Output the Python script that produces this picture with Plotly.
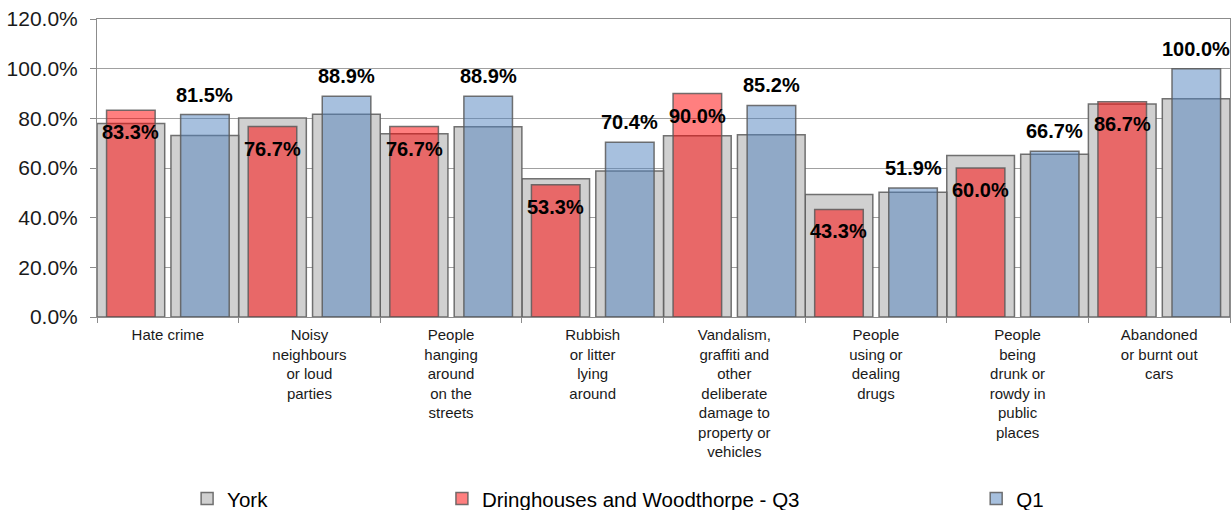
import plotly.graph_objects as go

categories = [
    "Hate crime",
    "Noisy<br>neighbours<br>or loud<br>parties",
    "People<br>hanging<br>around<br>on the<br>streets",
    "Rubbish<br>or litter<br>lying<br>around",
    "Vandalism,<br>graffiti and<br>other<br>deliberate<br>damage to<br>property or<br>vehicles",
    "People<br>using or<br>dealing<br>drugs",
    "People<br>being<br>drunk or<br>rowdy in<br>public<br>places",
    "Abandoned<br>or burnt out<br>cars",
]

# York comparison values (one behind the Q3 bar, one behind the Q1 bar)
york_q3 = [77.9, 80.1, 73.8, 55.7, 73.0, 49.3, 65.0, 85.8]
york_q1 = [73.1, 81.6, 76.6, 58.8, 73.4, 50.2, 65.5, 87.9]
dring_q3 = [83.3, 76.7, 76.7, 53.3, 90.0, 43.3, 60.0, 86.7]
q1 = [81.5, 88.9, 88.9, 70.4, 85.2, 51.9, 66.7, 100.0]

FONT = "Liberation Sans, Arial, sans-serif"
GREY = "#d0d0d0"
RED = "rgba(255,0,0,0.5)"
BLUE = "rgba(79,129,189,0.5)"
EDGE = dict(color="rgba(90,90,90,0.85)", width=1.5)

WIDE, NARROW = 0.478, 0.343

fig = go.Figure()
fig.add_trace(go.Bar(x=categories, y=york_q3, name="York", marker=dict(color=GREY, line=EDGE),
                     width=WIDE, offset=-0.5, legend="legend"))
fig.add_trace(go.Bar(x=categories, y=york_q1, name="York", marker=dict(color=GREY, line=EDGE),
                     width=WIDE, offset=0.022, showlegend=False))
fig.add_trace(go.Bar(x=categories, y=dring_q3, name="Dringhouses and Woodthorpe - Q3",
                     marker=dict(color=RED, line=EDGE), width=NARROW, offset=-0.261 - NARROW / 2,
                     legend="legend2"))
fig.add_trace(go.Bar(x=categories, y=q1, name="Q1", marker=dict(color=BLUE, line=EDGE),
                     width=NARROW, offset=0.262 - NARROW / 2, legend="legend3"))

# data labels: Q3 sits just inside the bar top, Q1 sits above the bar
for i, v in enumerate(dring_q3):
    fig.add_annotation(x=i - 0.261, y=v, text=f"<b>{v:.1f}%</b>", showarrow=False,
                       yshift=-22, font=dict(size=20, color="black", family=FONT))
for i, v in enumerate(q1):
    fig.add_annotation(x=i + 0.262, y=v, text=f"<b>{v:.1f}%</b>", showarrow=False,
                       yshift=20, font=dict(size=20, color="black", family=FONT))

legend_style = dict(orientation="h", xref="container", yref="container", y=0.022,
                    yanchor="middle", xanchor="left", font=dict(size=20.5, family=FONT, color="black"),
                    bgcolor="rgba(0,0,0,0)", itemwidth=30)

fig.update_layout(
    width=1231,
    height=510,
    margin=dict(l=97, r=1, t=19, b=193),
    barmode="overlay",
    plot_bgcolor="white",
    paper_bgcolor="white",
    font=dict(family=FONT, color="#1a1a1a"),
    legend=dict(legend_style, x=0.152),
    legend2=dict(legend_style, x=0.359),
    legend3=dict(legend_style, x=0.793),
    xaxis=dict(
        range=[-0.5, 7.5],
        tickson="boundaries",
        ticks="outside",
        ticklen=5,
        tickcolor="#8c8c8c",
        showline=True,
        linecolor="#8c8c8c",
        linewidth=1,
        mirror=True,
        showgrid=False,
        tickangle=0,
        ticklabelstandoff=4,
        tickfont=dict(size=15, family=FONT, color="#1a1a1a"),
    ),
    yaxis=dict(
        range=[0, 120],
        dtick=20,
        ticksuffix="%",
        tickformat=".1f",
        ticks="outside",
        ticklen=6,
        tickcolor="#8c8c8c",
        showline=True,
        linecolor="#8c8c8c",
        mirror=True,
        gridcolor="#a0a0a0",
        gridwidth=1,
        zeroline=False,
        ticklabelstandoff=8,
        tickfont=dict(size=21, family=FONT, color="#1a1a1a"),
    ),
)

fig.write_html("out.html", config={"displayModeBar": False},
               post_script="document.body.style.margin='0';document.body.style.padding='0';")
